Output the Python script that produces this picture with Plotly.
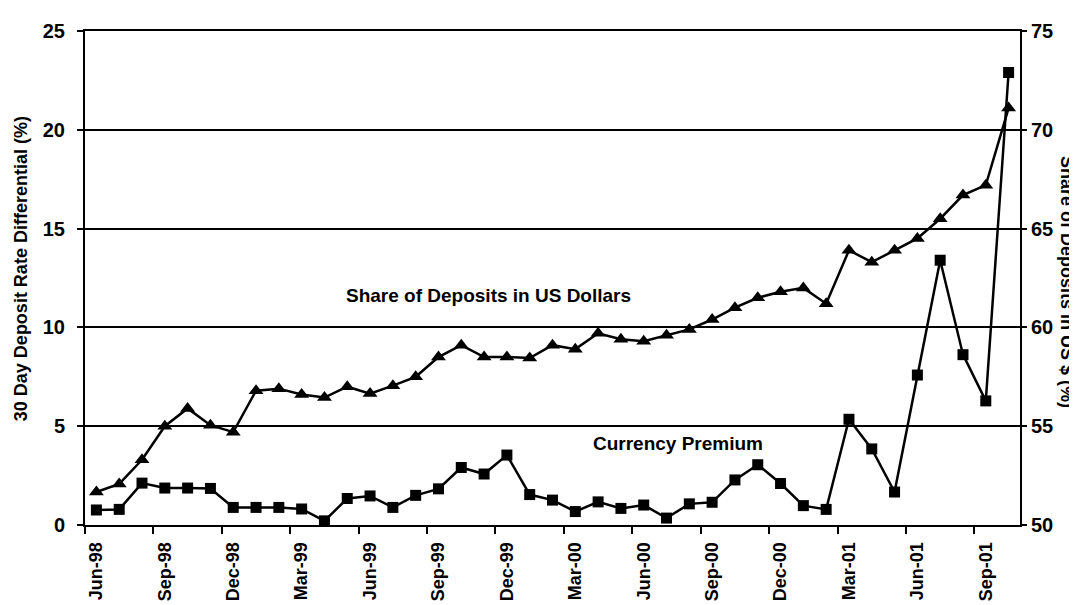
import plotly.graph_objects as go

months = ["Jun-98", "Jul-98", "Aug-98", "Sep-98", "Oct-98", "Nov-98", "Dec-98",
          "Jan-99", "Feb-99", "Mar-99", "Apr-99", "May-99", "Jun-99", "Jul-99",
          "Aug-99", "Sep-99", "Oct-99", "Nov-99", "Dec-99", "Jan-00", "Feb-00",
          "Mar-00", "Apr-00", "May-00", "Jun-00", "Jul-00", "Aug-00", "Sep-00",
          "Oct-00", "Nov-00", "Dec-00", "Jan-01", "Feb-01", "Mar-01", "Apr-01",
          "May-01", "Jun-01", "Jul-01", "Aug-01", "Sep-01", "Oct-01"]

currency_premium = [0.76, 0.79, 2.12, 1.87, 1.87, 1.85, 0.89, 0.89, 0.89, 0.81,
                    0.21, 1.34, 1.47, 0.89, 1.50, 1.83, 2.91, 2.58, 3.54, 1.54,
                    1.26, 0.68, 1.17, 0.84, 1.01, 0.35, 1.07, 1.15, 2.28, 3.05,
                    2.10, 0.98, 0.79, 5.35, 3.85, 1.67, 7.59, 13.4, 8.62, 6.28,
                    22.9]

share_usd = [51.67, 52.08, 53.3, 55.0, 55.9, 55.05, 54.7, 56.8, 56.9, 56.6,
             56.45, 57.0, 56.65, 57.05, 57.5, 58.5, 59.1, 58.5, 58.5, 58.45,
             59.1, 58.9, 59.7, 59.4, 59.3, 59.6, 59.9, 60.4, 61.0, 61.5,
             61.8, 62.0, 61.2, 63.9, 63.3, 63.9, 64.5, 65.5, 66.7, 67.2,
             71.1]

left_ticks = [0, 5, 10, 15, 20, 25]
right_ticks = [50, 55, 60, 65, 70, 75]
label_every = 3

x_idx = list(range(len(months)))
tick_idx = x_idx[::label_every]
tick_text = [months[i] for i in tick_idx]

FONT = "Liberation Sans, Arial, sans-serif"

fig = go.Figure()
fig.add_trace(go.Scatter(
    x=x_idx, y=share_usd, mode="lines+markers", yaxis="y2",
    name="Share of Deposits in US Dollars",
    line=dict(color="black", width=2.5),
    marker=dict(symbol="triangle-up", size=13, color="black"),
))
fig.add_trace(go.Scatter(
    x=x_idx, y=currency_premium, mode="lines+markers", yaxis="y",
    name="Currency Premium",
    line=dict(color="black", width=2.5),
    marker=dict(symbol="square", size=11, color="black"),
))

W, H = 1077, 605
L, R, T, B = 77, 65, 23, 78

fig.update_layout(
    width=W, height=H,
    margin=dict(l=L, r=R, t=T, b=B, pad=0),
    paper_bgcolor="white", plot_bgcolor="white",
    showlegend=False,
    font=dict(family=FONT, color="black", size=18, weight="bold"),
    xaxis=dict(
        range=[-0.5, len(months) - 0.5],
        tickmode="array", tickvals=tick_idx, ticktext=tick_text,
        tickangle=-90, ticks="outside", ticklen=8, tickcolor="rgba(0,0,0,0)",
        tickfont=dict(family=FONT, size=18, weight="bold"),
        minor=dict(tick0=-0.5, dtick=label_every, ticks="outside",
                   ticklen=7, tickwidth=2, tickcolor="black", showgrid=False),
        showgrid=False, zeroline=False,
        showline=True, linecolor="black", linewidth=2, mirror=True,
    ),
    yaxis=dict(
        range=[0, 25], tickmode="array", tickvals=left_ticks,
        ticks="outside", ticklen=6, tickwidth=2, tickcolor="black",
        ticklabelstandoff=8,
        tickfont=dict(family=FONT, size=20, weight="bold"),
        showgrid=True, gridcolor="black", gridwidth=2,
        zeroline=False, showline=True, linecolor="black", linewidth=2,
    ),
    yaxis2=dict(
        range=[50, 75], tickmode="array", tickvals=right_ticks,
        overlaying="y", side="right",
        ticks="outside", ticklen=5, tickwidth=2, tickcolor="black",
        ticklabelstandoff=0,
        tickfont=dict(family=FONT, size=20, weight="bold"),
        showgrid=False, zeroline=False,
        showline=True, linecolor="black", linewidth=2,
    ),
)

pw = W - L - R
ph = H - T - B

fig.add_annotation(
    text="30 Day Deposit Rate Differential (%)",
    xref="paper", yref="paper",
    x=(13 - L) / pw, y=(H - B - 266) / ph,
    textangle=-90, showarrow=False,
    xanchor="center", yanchor="middle",
    font=dict(family=FONT, size=18, weight="bold", color="black"),
)
fig.add_annotation(
    text="Share of Deposits in US $ (%)",
    xref="paper", yref="paper",
    x=(1059 - L) / pw, y=(H - B - 279) / ph,
    textangle=90, showarrow=False,
    xanchor="center", yanchor="middle",
    font=dict(family=FONT, size=18, weight="bold", color="black"),
)
fig.add_annotation(
    text="Share of Deposits in US Dollars",
    xref="x", yref="y", x=17.2, y=11.6, showarrow=False,
    xanchor="center", yanchor="middle",
    font=dict(family=FONT, size=19, weight="bold", color="black"),
)
fig.add_annotation(
    text="Currency Premium",
    xref="x", yref="y", x=25.5, y=4.1, showarrow=False,
    xanchor="center", yanchor="middle",
    font=dict(family=FONT, size=19, weight="bold", color="black"),
)

fig.write_html("out.html")
